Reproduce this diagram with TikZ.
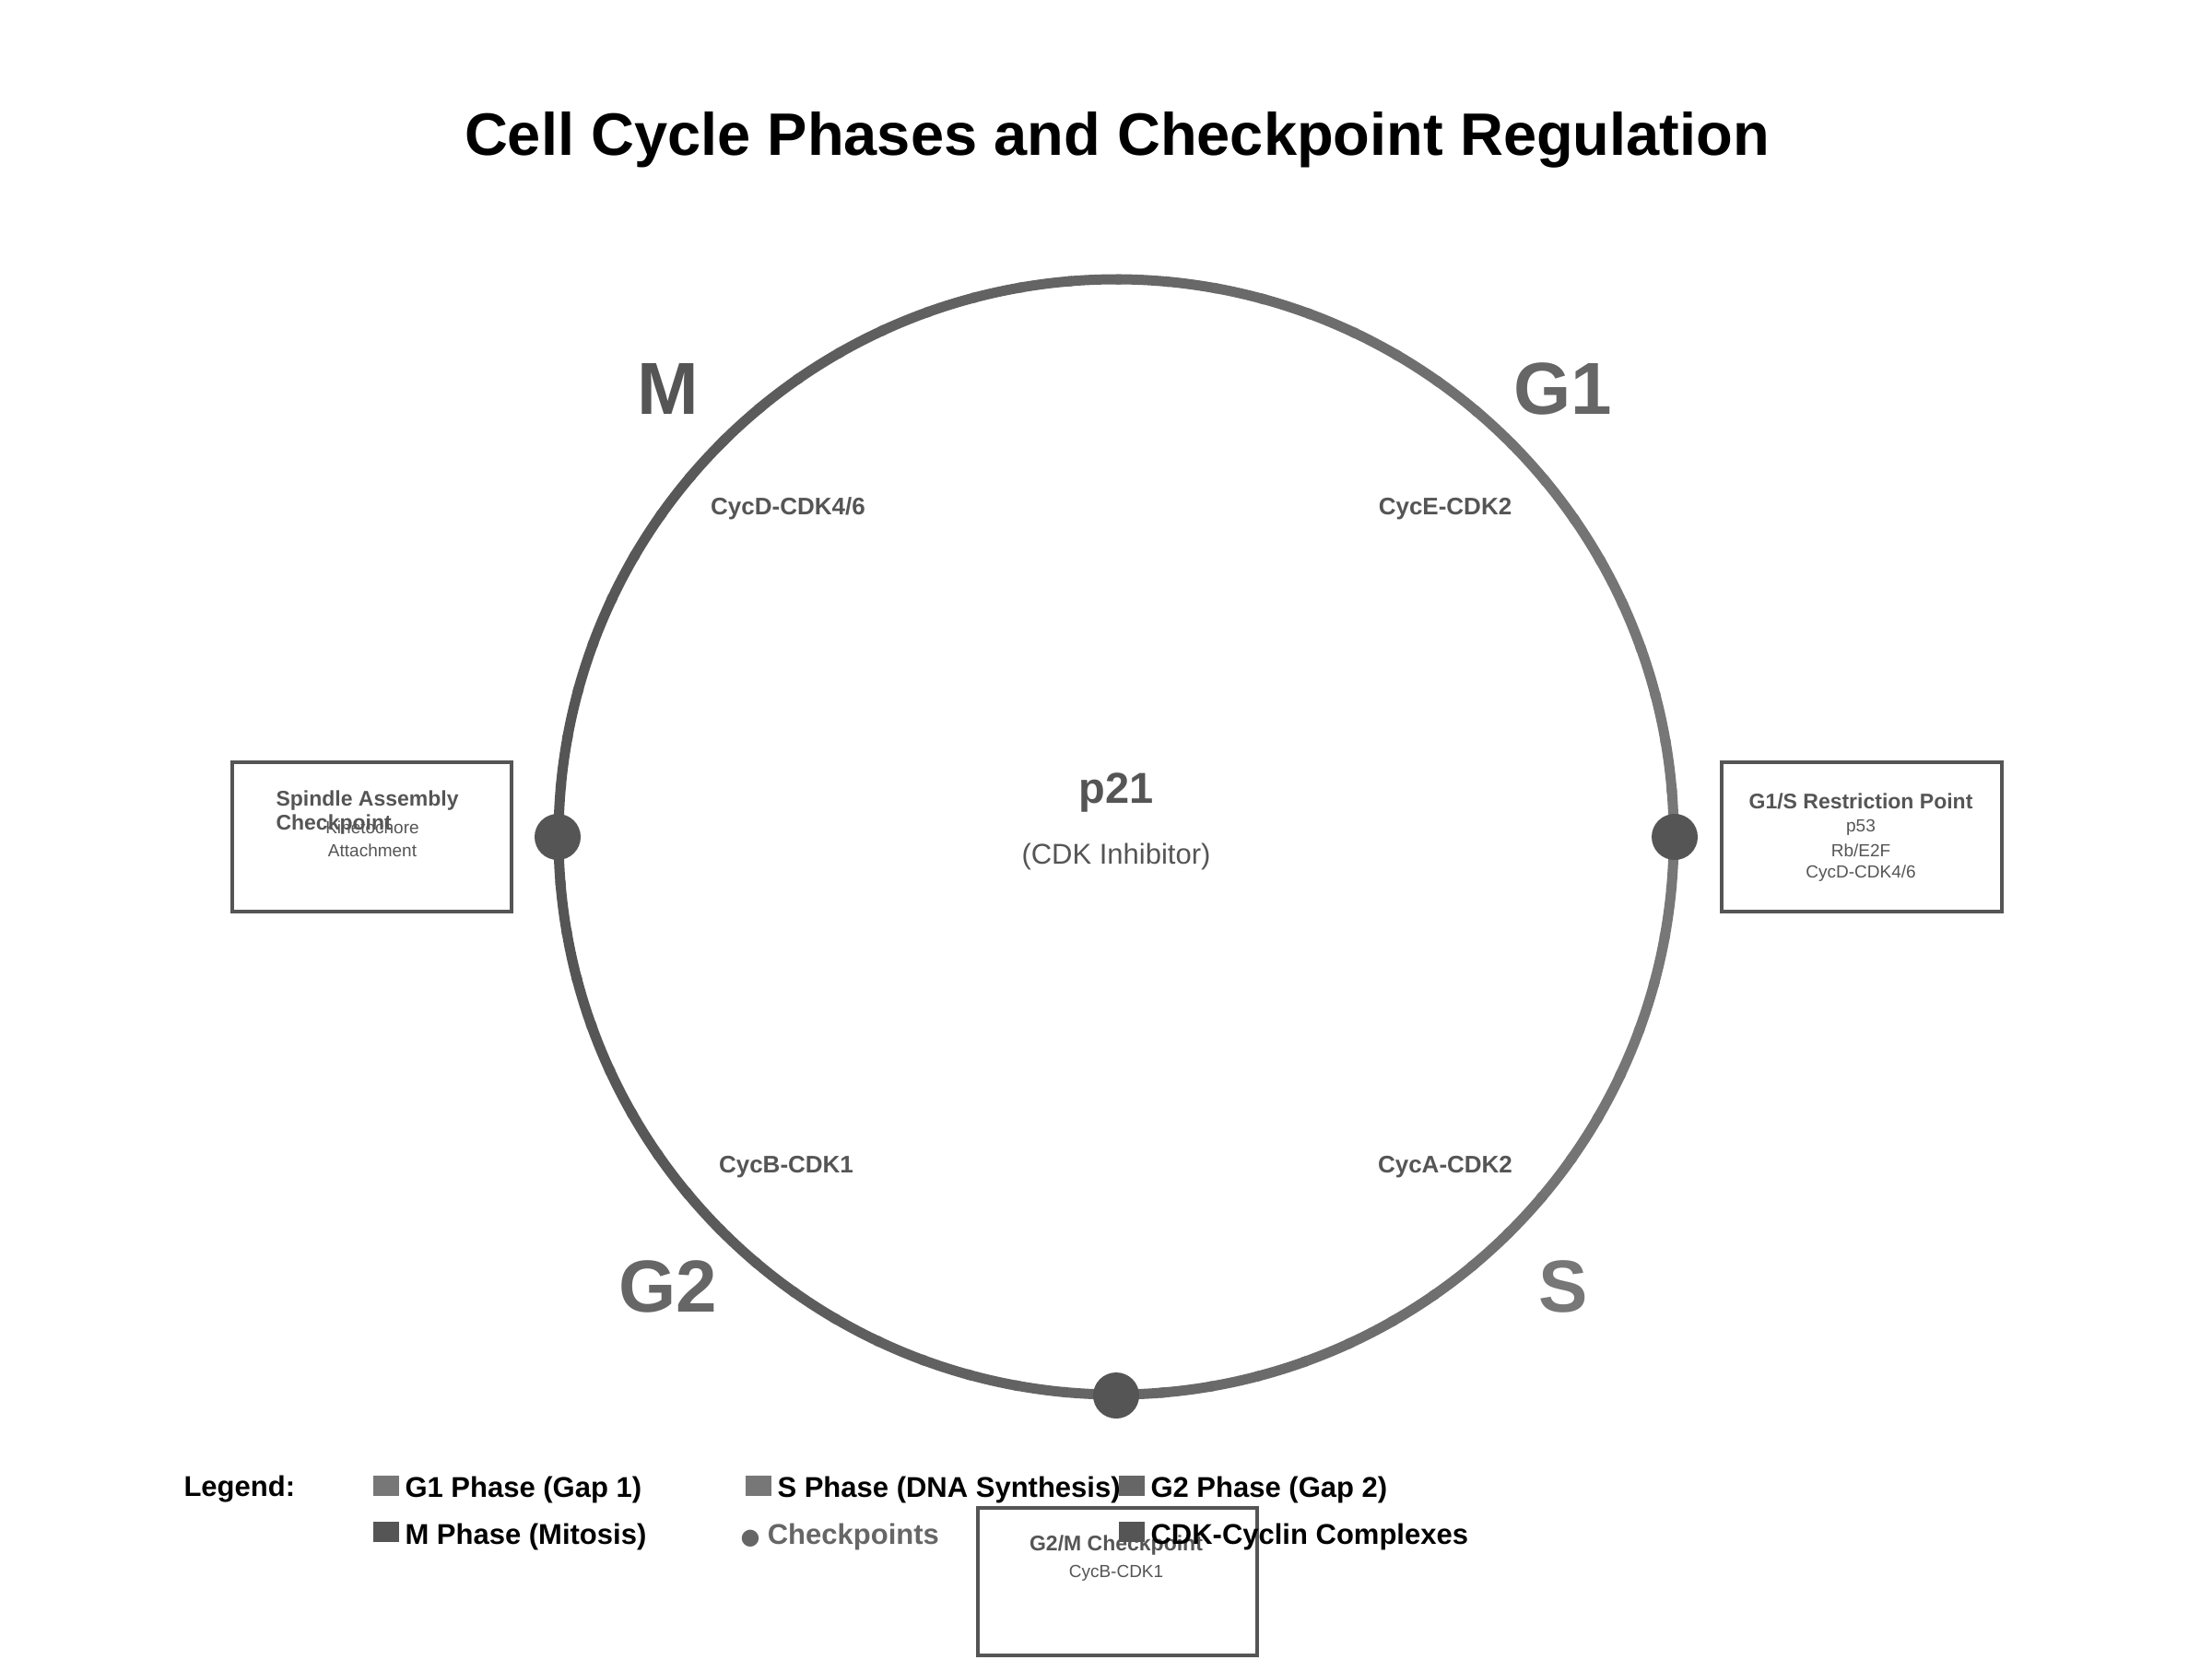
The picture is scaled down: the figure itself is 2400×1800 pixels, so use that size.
\documentclass[tikz,border=0pt]{standalone}
\usepackage{fontspec}
\setmainfont{Liberation Sans}
\usetikzlibrary{calc}
\begin{document}
\begin{tikzpicture}[x=1pt,y=-1pt,
  phase/.style={font=\fontsize{80}{90}\selectfont\bfseries},
  cplx/.style={font=\fontsize{26}{30}\selectfont\bfseries,text=c55},
  cp/.style={circle,fill=c55,minimum size=50pt,inner sep=0pt},
  box/.style={draw=c55,line width=3.5pt},
  btitle/.style={font=\fontsize{23}{27}\selectfont\bfseries,text=c55},
  bsmall/.style={font=\fontsize{19}{23}\selectfont,text=c55},
  leg/.style={font=\fontsize{31}{36}\selectfont\bfseries,anchor=west},
  sq/.style={minimum width=28pt,minimum height=22pt,inner sep=0pt}]
\definecolor{c55}{HTML}{555555}
\definecolor{c66}{HTML}{666666}
\definecolor{c77}{HTML}{777777}
\useasboundingbox (0,0) rectangle (2400,1800);
\fill[white] (0,0) rectangle (2400,1800);
\node[font=\fontsize{65}{75}\selectfont\bfseries] (title) at (1212,152) {Cell Cycle Phases and Checkpoint Regulation};
% circle with horizontal gradient
\coordinate (c) at (1211,908);
\foreach \a in {0,5,...,355}{
  \pgfmathsetmacro{\m}{50+50*cos(\a+2.5)}
  \colorlet{segc}{c77!\m!c55}
  \draw[segc,line width=11pt] ($(c)+(\a:605)$) arc[start angle=\a,end angle=\a+5.5,radius=605];
}
\node[phase,text=c55] (M) at (725,422) {M};
\node[phase,text=c66] (G1) at (1696,422) {G1};
\node[phase,text=c66] (G2) at (725,1396) {G2};
\node[phase,text=c77] (S) at (1696,1396) {S};
\node[cplx] (k1) at (855,552) {CycD-CDK4/6};
\node[cplx] (k2) at (1568,552) {CycE-CDK2};
\node[cplx] (k3) at (853,1266) {CycB-CDK1};
\node[cplx] (k4) at (1568,1266) {CycA-CDK2};
\node[font=\fontsize{47}{52}\selectfont\bfseries,text=c55] (p21) at (1211,860) {p21};
\node[font=\fontsize{31}{36}\selectfont,text=c55] (inh) at (1211,929) {(CDK Inhibitor)};
\node[cp] (d1) at (605,908) {};
\node[cp] (d2) at (1817,908) {};
\node[cp] (d3) at (1211,1514) {};
\draw[box] (252,827) rectangle (555,989);
\draw[box] (1868,827) rectangle (2172,989);
\draw[box] (1061,1636) rectangle (1364,1796);
\node[btitle,anchor=west] (l1) at (296,869) {Spindle Assembly};
\node[btitle,anchor=west] (l2) at (296,895) {Checkpoint};
\node[bsmall] (l3) at (404,898) {Kinetochore};
\node[bsmall] (l4) at (404,923) {Attachment};
\node[btitle] (r1) at (2019,869) {G1/S Restriction Point};
\node[bsmall] (r2) at (2019,898) {p53};
\node[bsmall] (r3) at (2019,923) {Rb/E2F};
\node[bsmall] (r4) at (2019,948) {CycD-CDK4/6};
\node[btitle] (b1) at (1211,1677) {G2/M Checkpoint};
\node[bsmall] (b2) at (1211,1707) {CycB-CDK1};
% legend
\node[leg] (lg) at (196,1616) {Legend:};
\node[sq,fill=c77] (s1) at (419,1612) {};
\node[leg] (t1) at (436,1616) {G1 Phase (Gap 1)};
\node[sq,fill=c77] (s2) at (823,1612) {};
\node[leg] (t2) at (840,1616) {S Phase (DNA Synthesis)};
\node[sq,fill=c66] (s3) at (1228,1612) {};
\node[leg] (t3) at (1245,1616) {G2 Phase (Gap 2)};
\node[sq,fill=c55] (s4) at (419,1662) {};
\node[leg] (t4) at (436,1667) {M Phase (Mitosis)};
\node[leg,text=c66] (t5) at (800,1667) {\fontspec{DejaVu Sans}\fontsize{24}{28}\selectfont ●\ \fontspec{Liberation Sans}\fontsize{31}{36}\selectfont\bfseries Checkpoints};
\node[sq,fill=c55] (s6) at (1228,1662) {};
\node[leg] (t6) at (1245,1667) {CDK-Cyclin Complexes};
\end{tikzpicture}
\end{document}
